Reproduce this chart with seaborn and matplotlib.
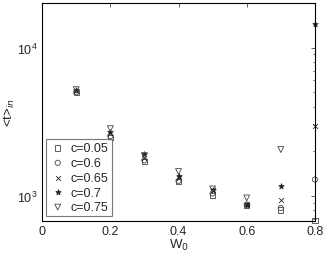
import numpy as np
import pandas as pd
import matplotlib
matplotlib.use("Agg")
import matplotlib.pyplot as plt
import seaborn as sns
from matplotlib.ticker import LogLocator, NullFormatter

w0 = [0.1, 0.2, 0.3, 0.4, 0.5, 0.6, 0.7, 0.8]
t_c005 = [4950, 2470, 1700, 1250, 1005, 865, 805, 685]
t_c06 = [5000, 2530, 1740, 1265, 1040, 875, 830, 1290]
t_c065 = [5100, 2650, 1800, 1330, 1090, 880, 945, 2980]
t_c07 = [5150, 2700, 1920, 1370, 1100, 875, 1175, 14300]
t_c075 = [5200, 2840, 1870, 1460, 1115, 970, 2055, np.nan]

series = [
    ("c=0.05", t_c005, "s", True, 14),
    ("c=0.6", t_c06, "o", True, 14),
    ("c=0.65", t_c065, "x", False, 12),
    ("c=0.7", t_c07, "*", False, 16),
    ("c=0.75", t_c075, "v", True, 18),
]

sns.set_style("white")
plt.rcParams["font.family"] = ["Liberation Sans", "DejaVu Sans"]

fig, ax = plt.subplots(figsize=(3.24, 2.55), dpi=100)
for name, vals, mk, hollow, sz in series:
    df = pd.DataFrame({"W0": w0, "t": vals})
    if hollow:
        sns.scatterplot(data=df, x="W0", y="t", marker=mk, s=sz, facecolor="none",
                        edgecolor="#444444", linewidth=0.6, label=name, ax=ax, clip_on=False)
    else:
        sns.scatterplot(data=df, x="W0", y="t", marker=mk, s=sz, color="#222222",
                        edgecolor="#222222", linewidth=0.6, label=name, ax=ax, clip_on=False)

ax.set_yscale("log")
ax.set_xlim(0, 0.8)
ax.set_ylim(680, 20000)
ax.set_xticks([0, 0.2, 0.4, 0.6, 0.8])
ax.set_xticklabels(["0", "0.2", "0.4", "0.6", "0.8"])
ax.yaxis.set_major_locator(LogLocator(base=10, numticks=5))
ax.yaxis.set_minor_locator(LogLocator(base=10, subs=np.arange(2, 10), numticks=20))
ax.yaxis.set_minor_formatter(NullFormatter())
ax.tick_params(axis="both", which="both", direction="in", top=True, right=True,
               labelsize=9, length=3, width=0.5, pad=3)
ax.tick_params(which="minor", length=1.8)
for sp in ax.spines.values():
    sp.set_linewidth(0.8)
    sp.set_color("black")

ax.set_xlabel("W$_0$", fontsize=9.5, labelpad=0)
ax.set_ylabel("<t>$_{in}$", fontsize=9.5, labelpad=0)

leg = ax.legend(loc="lower left", fontsize=9, frameon=True, fancybox=False,
                handletextpad=0.4, borderpad=0.25, labelspacing=0.22,
                handlelength=1.3, borderaxespad=0.35)
leg.get_frame().set_edgecolor("#555555")
leg.get_frame().set_linewidth(0.8)

fig.subplots_adjust(left=0.13, right=0.972, top=0.985, bottom=0.13)
fig.savefig("out.png", dpi=100)
